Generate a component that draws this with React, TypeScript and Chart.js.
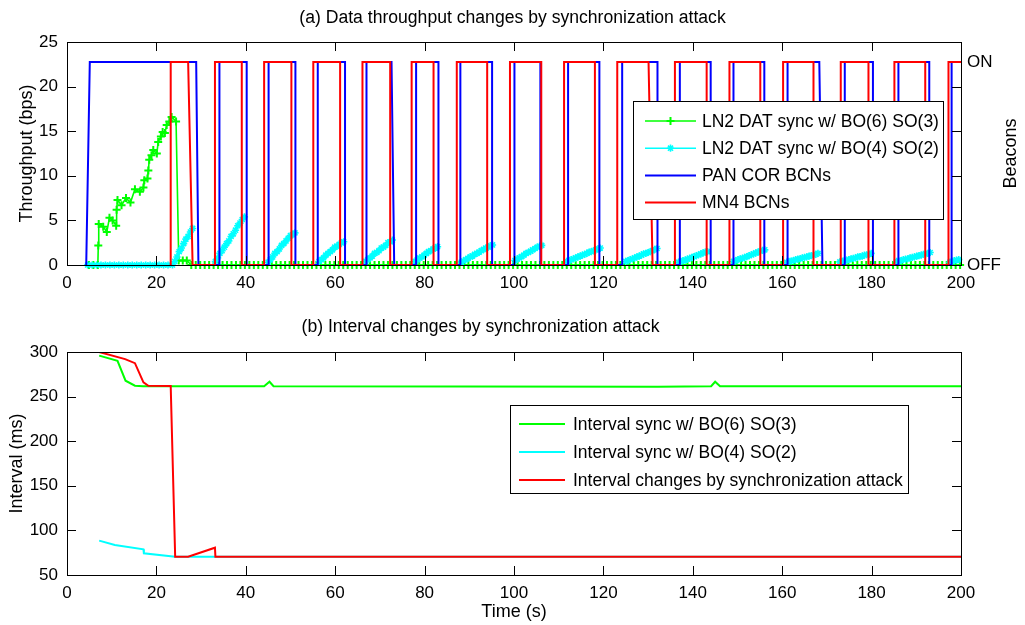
import React, { useEffect, useRef } from 'react';
import { Chart, registerables } from 'chart.js';

Chart.register(...registerables);

const FONT = "'Liberation Sans', Arial, Helvetica, sans-serif";

// ---------------- data: panel (a) ----------------
const BEACON_ON = 22.75; // level used for "ON"
const X_MAX = 200;

// PAN COR beacons: edge start / end times (first edge is a rise, then alternating)
const panEdgeFrom = [4.3, 28.9, 34.1, 40.2, 45.1, 51.1, 56.1, 62.2, 67.0, 72.6, 78.1, 83.1, 88.0, 95.1, 100.1, 105.9, 112.1, 119.1, 124.2, 132.1, 137.1, 144.0, 149.1, 156.0, 161.2, 168.3, 174.0, 180.3, 186.0, 192.9, 197.9];
const panEdgeTo = [5.1, 29.4, 34.1, 40.2, 45.1, 51.1, 56.1, 62.2, 67.0, 73.2, 78.1, 83.1, 88.0, 95.1, 100.1, 105.9, 112.1, 119.1, 124.2, 132.1, 137.1, 144.0, 149.1, 156.0, 161.2, 169.0, 174.0, 180.3, 186.0, 192.9, 197.9];

// MN4 beacons
const mn4EdgeFrom = [23.2, 27.1, 33.1, 39.1, 44.1, 50.2, 55.1, 61.1, 66.1, 72.3, 77.1, 82.0, 87.2, 94.0, 99.1, 106.1, 111.2, 118.1, 123.1, 130.1, 136.0, 143.1, 148.2, 155.1, 160.2, 167.0, 173.1, 179.3, 185.1, 192.0, 197.2];
const mn4EdgeTo = [23.2, 28.1, 33.1, 39.1, 44.1, 50.2, 55.1, 61.1, 66.1, 72.3, 77.1, 82.0, 87.2, 94.0, 99.1, 106.1, 111.2, 118.1, 123.1, 131.0, 136.0, 143.1, 148.2, 155.1, 160.2, 167.0, 173.1, 179.3, 185.1, 192.0, 197.2];

// LN2 DAT sync w/ BO(6) SO(3)
const greenActiveT = [4.9, 5.9, 6.9, 7.0, 7.1, 8.1, 8.9, 9.5, 10.2, 11.0, 11.1, 11.3, 12.2, 13.2, 14.2, 15.2, 16.3, 17.1, 17.3, 18.0, 18.2, 18.4, 18.9, 19.3, 20.1, 20.4, 21.0, 21.4, 21.9, 22.3, 22.9, 23.4, 24.4, 25.0, 25.9, 26.8];
const greenActiveV = [0, 0, 0, 2.2, 4.6, 4.3, 3.7, 5.3, 5.0, 4.4, 6.2, 7.3, 6.7, 7.5, 7.0, 8.5, 8.2, 8.7, 9.5, 9.7, 10.6, 11.8, 12.3, 12.9, 12.5, 13.8, 14.4, 14.9, 14.8, 15.7, 16.1, 16.6, 16.1, 0.5, 0.5, 0.5];
const greenIdleStart = 27.8; // idle (0 bps) samples from here to the end
const greenIdleLevel = 0;
const IDLE_SAMPLE_PERIOD = 1;

// LN2 DAT sync w/ BO(4) SO(2)
const cyanIdleT = [4.6, 5.6, 6.6, 7.6, 8.6, 9.6, 10.6, 11.6, 12.6, 13.6, 14.6, 15.6, 16.6, 17.6, 18.6, 19.6, 20.6, 21.6, 22.6, 23.6];
const cyanIdleV = [0, 0, 0, 0, 0, 0, 0, 0, 0, 0, 0, 0, 0, 0, 0, 0, 0, 0, 0, 0];
const RAMP_SAMPLE_PERIOD = 0.5;
const cyanRampStart = [24.1, 33.2, 45.0, 56.4, 66.8, 77.9, 88.2, 100.2, 111.8, 125.0, 136.8, 149.1, 161.0, 172.9, 185.6, 197.5];
const cyanRampValues = [
  [0.4, 0.9, 1.5, 1.9, 2.4, 2.9, 3.2, 3.7, 4.1],
  [0.4, 0.8, 1.3, 1.6, 2.0, 2.4, 2.7, 3.2, 3.5, 3.9, 4.4, 4.7, 5.1, 5.4],
  [0.3, 0.6, 0.9, 1.3, 1.5, 1.8, 2.2, 2.4, 2.7, 3.0, 3.3, 3.4, 3.6],
  [0.4, 0.6, 0.8, 1.1, 1.3, 1.5, 1.7, 2.0, 2.1, 2.3, 2.5, 2.6],
  [0.4, 0.6, 0.8, 1.0, 1.3, 1.4, 1.6, 1.9, 2.0, 2.2, 2.5, 2.6, 2.8],
  [0.4, 0.6, 0.8, 0.9, 1.1, 1.3, 1.5, 1.6, 1.8, 1.9, 2.05],
  [0.3, 0.45, 0.6, 0.75, 0.9, 1.0, 1.2, 1.3, 1.45, 1.6, 1.75, 1.9, 2.0, 2.15, 2.25],
  [0.5, 0.65, 0.8, 0.95, 1.1, 1.3, 1.4, 1.55, 1.7, 1.85, 2.0, 2.1, 2.2],
  [0.4, 0.5, 0.6, 0.7, 0.8, 0.9, 1.0, 1.1, 1.2, 1.3, 1.45, 1.5, 1.6, 1.7, 1.8, 1.9],
  [0.4, 0.5, 0.6, 0.7, 0.8, 0.9, 1.0, 1.1, 1.25, 1.3, 1.4, 1.5, 1.6, 1.75, 1.85],
  [0.3, 0.4, 0.5, 0.55, 0.65, 0.75, 0.85, 0.95, 1.05, 1.15, 1.25, 1.35, 1.45, 1.5],
  [0.4, 0.5, 0.6, 0.7, 0.75, 0.85, 0.95, 1.05, 1.15, 1.25, 1.35, 1.45, 1.55, 1.65, 1.7],
  [0.3, 0.4, 0.45, 0.5, 0.6, 0.65, 0.7, 0.8, 0.85, 0.9, 1.0, 1.05, 1.1, 1.2, 1.3],
  [0.35, 0.4, 0.5, 0.55, 0.6, 0.7, 0.75, 0.8, 0.9, 0.95, 1.0, 1.1, 1.15, 1.2, 1.3],
  [0.4, 0.45, 0.5, 0.6, 0.65, 0.7, 0.8, 0.85, 0.9, 1.0, 1.05, 1.1, 1.2, 1.25, 1.3, 1.4],
  [0.3, 0.4, 0.5, 0.55, 0.6],
];

// ---------------- data: panel (b) ----------------
const ivGreenT = [7.2, 11.3, 13.1, 15.2, 17.0, 44.1, 45.3, 46.2, 132.2, 144.1, 145.0, 146.1, 200];
const ivGreenV = [296, 290.2, 267.8, 262.2, 261.6, 261.6, 266.7, 261.6, 261.2, 261.6, 266.7, 261.6, 261.6];
const ivCyanT = [7.2, 10.7, 17.1, 17.2, 24.2, 200];
const ivCyanV = [88.5, 83.6, 78.8, 74.3, 70.5, 70.5];
const ivRedT = [7.2, 13.0, 15.2, 17.1, 18.2, 23.2, 24.2, 27.1, 33.1, 33.2, 200];
const ivRedV = [300, 292, 287.5, 266, 262.2, 262, 70.5, 70.5, 80.6, 70.5, 70.5];

// ---------------- builders ----------------
type Pt = { x: number; y: number | null };

function pairs(ts: number[], vs: number[]): Pt[] {
  return ts.map((t, i) => ({ x: t, y: vs[i] }));
}

function squareWave(from: number[], to: number[], on: number, end: number): Pt[] {
  const pts: Pt[] = [{ x: from[0], y: 0 }];
  let level = 0;
  from.forEach((f, i) => {
    const next = level === 0 ? on : 0;
    pts.push({ x: f, y: level });
    pts.push({ x: to[i], y: next });
    level = next;
  });
  pts.push({ x: end, y: level });
  return pts;
}

function idleSamples(start: number, end: number, step: number, level: number): Pt[] {
  const pts: Pt[] = [];
  for (let t = start; t <= end + 1e-9; t += step) pts.push({ x: +t.toFixed(2), y: level });
  return pts;
}

function cyanSeries(): Pt[] {
  const pts: Pt[] = pairs(cyanIdleT, cyanIdleV);
  cyanRampValues.forEach((vals, r) => {
    if (r > 0) pts.push({ x: cyanRampStart[r] - 0.2, y: null });
    vals.forEach((v, k) => pts.push({ x: +(cyanRampStart[r] + k * RAMP_SAMPLE_PERIOD).toFixed(2), y: v }));
  });
  return pts;
}

// ---------------- plugins ----------------
function drawMarker(ctx: CanvasRenderingContext2D, style: string, x: number, y: number, r: number) {
  ctx.beginPath();
  ctx.moveTo(x - r, y); ctx.lineTo(x + r, y);
  ctx.moveTo(x, y - r); ctx.lineTo(x, y + r);
  if (style === 'star') {
    const d = r * Math.SQRT1_2;
    ctx.moveTo(x - d, y - d); ctx.lineTo(x + d, y + d);
    ctx.moveTo(x - d, y + d); ctx.lineTo(x + d, y - d);
  }
  ctx.stroke();
}

const framePlugin = {
  id: 'matlabFrame',
  afterDatasetsDraw(chart: any, _a: any, opts: any) {
    const { ctx, chartArea: a, scales } = chart;
    const len = opts.tickLength || 9;
    ctx.save();
    ctx.strokeStyle = '#000';
    ctx.lineWidth = 1;
    ctx.beginPath();
    scales.x.ticks.forEach((t: any) => {
      const px = Math.round(scales.x.getPixelForValue(t.value)) + 0.5;
      ctx.moveTo(px, a.bottom); ctx.lineTo(px, a.bottom - len);
      ctx.moveTo(px, a.top); ctx.lineTo(px, a.top + len);
    });
    scales.y.ticks.forEach((t: any) => {
      const py = Math.round(scales.y.getPixelForValue(t.value)) + 0.5;
      ctx.moveTo(a.left, py); ctx.lineTo(a.left + len, py);
      ctx.moveTo(a.right, py); ctx.lineTo(a.right - len, py);
    });
    ctx.stroke();
    ctx.strokeRect(Math.round(a.left) + 0.5, Math.round(a.top) + 0.5, Math.round(a.right - a.left), Math.round(a.bottom - a.top));
    if (opts.rightTitle) {
      ctx.fillStyle = '#000';
      ctx.font = `${opts.rightTitleSize}px ${FONT}`;
      ctx.textAlign = 'center';
      ctx.textBaseline = 'middle';
      ctx.translate(opts.rightTitleX, (a.top + a.bottom) / 2);
      ctx.rotate(-Math.PI / 2);
      ctx.fillText(opts.rightTitle, 0, 0);
    }
    ctx.restore();
  },
};

const boxLegendPlugin = {
  id: 'boxLegend',
  afterDraw(chart: any, _a: any, opts: any) {
    if (!opts || !opts.items) return;
    const ctx: CanvasRenderingContext2D = chart.ctx;
    ctx.save();
    ctx.fillStyle = '#fff';
    ctx.fillRect(opts.left, opts.top, opts.width, opts.height);
    ctx.strokeStyle = '#000';
    ctx.lineWidth = 1;
    ctx.strokeRect(opts.left + 0.5, opts.top + 0.5, opts.width, opts.height);
    ctx.font = `${opts.fontSize}px ${FONT}`;
    ctx.textBaseline = 'middle';
    ctx.textAlign = 'left';
    opts.items.forEach((idx: number, i: number) => {
      const ds = chart.data.datasets[idx];
      const y = opts.firstRowY + i * opts.rowGap;
      ctx.strokeStyle = ds.borderColor;
      ctx.lineWidth = ds.borderWidth;
      ctx.beginPath();
      ctx.moveTo(opts.lineX0, y);
      ctx.lineTo(opts.lineX1, y);
      ctx.stroke();
      if (ds.pointRadius > 0) {
        ctx.lineWidth = ds.pointBorderWidth;
        drawMarker(ctx, ds.pointStyle, (opts.lineX0 + opts.lineX1) / 2, y, ds.pointRadius);
      }
      ctx.fillStyle = '#000';
      ctx.fillText(ds.label, opts.textX, y + 1);
    });
    ctx.restore();
  },
};

const TICK_FONT = { family: FONT, size: 17 };
const TITLE_FONT = { family: FONT, size: 17.6, weight: 'normal' as const };
const AXIS_TITLE_FONT = { family: FONT, size: 18 };

function topConfig(): any {
  return {
    type: 'line',
    data: {
      datasets: [
        { label: 'MN4 BCNs', data: squareWave(mn4EdgeFrom, mn4EdgeTo, BEACON_ON, X_MAX), borderColor: '#ff0000', borderWidth: 2, pointRadius: 0, tension: 0 },
        { label: 'PAN COR BCNs', data: squareWave(panEdgeFrom, panEdgeTo, BEACON_ON, X_MAX), borderColor: '#0000ff', borderWidth: 2, pointRadius: 0, tension: 0 },
        { label: 'LN2 DAT sync w/ BO(4) SO(2)', data: cyanSeries(), borderColor: '#00ffff', borderWidth: 1.5, pointStyle: 'star', pointRadius: 3.6, pointBorderColor: '#00ffff', pointBackgroundColor: '#00ffff', pointBorderWidth: 1.6, spanGaps: false, clip: 8 },
        { label: 'LN2 DAT sync w/ BO(6) SO(3)', data: pairs(greenActiveT, greenActiveV).concat(idleSamples(greenIdleStart, X_MAX, IDLE_SAMPLE_PERIOD, greenIdleLevel)), borderColor: '#00ff00', borderWidth: 1.6, pointStyle: 'cross', pointRadius: 4, pointBorderColor: '#00ff00', pointBackgroundColor: '#00ff00', pointBorderWidth: 2, clip: 8 },
      ],
    },
    options: {
      responsive: false,
      animation: false,
      events: [],
      layout: { padding: 0 },
      plugins: {
        legend: { display: false },
        tooltip: { enabled: false },
        title: { display: true, text: '(a) Data throughput changes by synchronization attack', color: '#000', font: TITLE_FONT, padding: { top: 7.5, bottom: 13.4 } },
        boxLegend: { items: [3, 2, 1, 0], left: 633, top: 101, width: 310, height: 118, firstRowY: 121, rowGap: 27.2, lineX0: 645, lineX1: 696, textX: 702, fontSize: 17.5 },
        matlabFrame: { tickLength: 9, rightTitle: 'Beacons', rightTitleX: 1011, rightTitleSize: 18 },
      },
      scales: {
        x: { type: 'linear', min: 0, max: X_MAX, ticks: { stepSize: 20, color: '#000', font: TICK_FONT, padding: 8, maxRotation: 0 }, grid: { display: false, drawTicks: false }, border: { display: false }, afterFit: (s: any) => { s.height = 35; } },
        y: { min: 0, max: 25, ticks: { stepSize: 5, color: '#000', font: TICK_FONT, padding: 9 }, grid: { display: false, drawTicks: false }, border: { display: false }, title: { display: true, text: 'Throughput (bps)', color: '#000', font: AXIS_TITLE_FONT, padding: { top: 16 } }, afterFit: (s: any) => { s.width = 67; } },
        y1: { position: 'right', min: 0, max: 25, afterBuildTicks: (s: any) => { s.ticks = [{ value: 0 }, { value: BEACON_ON }]; }, ticks: { color: '#000', font: TICK_FONT, padding: 6, callback: (v: number) => (v === 0 ? 'OFF' : 'ON') }, grid: { display: false, drawTicks: false }, border: { display: false }, afterFit: (s: any) => { s.width = 1025 - 961; } },
      },
    },
    plugins: [framePlugin, boxLegendPlugin],
  };
}

function bottomConfig(): any {
  return {
    type: 'line',
    data: {
      datasets: [
        { label: 'Interval changes by synchronization attack', data: pairs(ivRedT, ivRedV), borderColor: '#ff0000', borderWidth: 2, pointRadius: 0, tension: 0 },
        { label: 'Interval sync w/ BO(4) SO(2)', data: pairs(ivCyanT, ivCyanV), borderColor: '#00ffff', borderWidth: 2, pointRadius: 0, tension: 0 },
        { label: 'Interval sync w/ BO(6) SO(3)', data: pairs(ivGreenT, ivGreenV), borderColor: '#00ff00', borderWidth: 2, pointRadius: 0, tension: 0 },
      ],
    },
    options: {
      responsive: false,
      animation: false,
      events: [],
      layout: { padding: { left: 0, right: 64 } },
      plugins: {
        legend: { display: false },
        tooltip: { enabled: false },
        title: { display: true, text: '(b) Interval changes by synchronization attack', color: '#000', font: TITLE_FONT, padding: { top: 16.5, bottom: 14.4 } },
        boxLegend: { items: [2, 1, 0], left: 510, top: 105, width: 398, height: 88, firstRowY: 124, rowGap: 28, lineX0: 519, lineX1: 565, textX: 573, fontSize: 17.5 },
        matlabFrame: { tickLength: 9 },
      },
      scales: {
        x: { type: 'linear', min: 0, max: X_MAX, ticks: { stepSize: 20, color: '#000', font: TICK_FONT, padding: 8, maxRotation: 0 }, grid: { display: false, drawTicks: false }, border: { display: false }, title: { display: true, text: 'Time (s)', color: '#000', font: AXIS_TITLE_FONT, padding: { bottom: 2 } }, afterFit: (s: any) => { s.height = 50; } },
        y: { min: 50, max: 300, ticks: { stepSize: 50, color: '#000', font: TICK_FONT, padding: 9 }, grid: { display: false, drawTicks: false }, border: { display: false }, title: { display: true, text: 'Interval (ms)', color: '#000', font: AXIS_TITLE_FONT, padding: { top: 6 } }, afterFit: (s: any) => { s.width = 67; } },
      },
    },
    plugins: [framePlugin, boxLegendPlugin],
  };
}

function ChartCanvas({ config, width, height }: { config: () => any; width: number; height: number }) {
  const ref = useRef<HTMLCanvasElement | null>(null);
  useEffect(() => {
    if (!ref.current) return;
    const chart = new Chart(ref.current, config());
    return () => chart.destroy();
  }, [config]);
  return <canvas ref={ref} width={width} height={height} style={{ display: 'block', width, height }} />;
}

export default function App() {
  return (
    <div style={{ position: 'absolute', left: 0, top: 0, width: 1025, height: 625, background: '#fff' }}>
      <ChartCanvas config={topConfig} width={1025} height={300} />
      <ChartCanvas config={bottomConfig} width={1025} height={325} />
    </div>
  );
}
